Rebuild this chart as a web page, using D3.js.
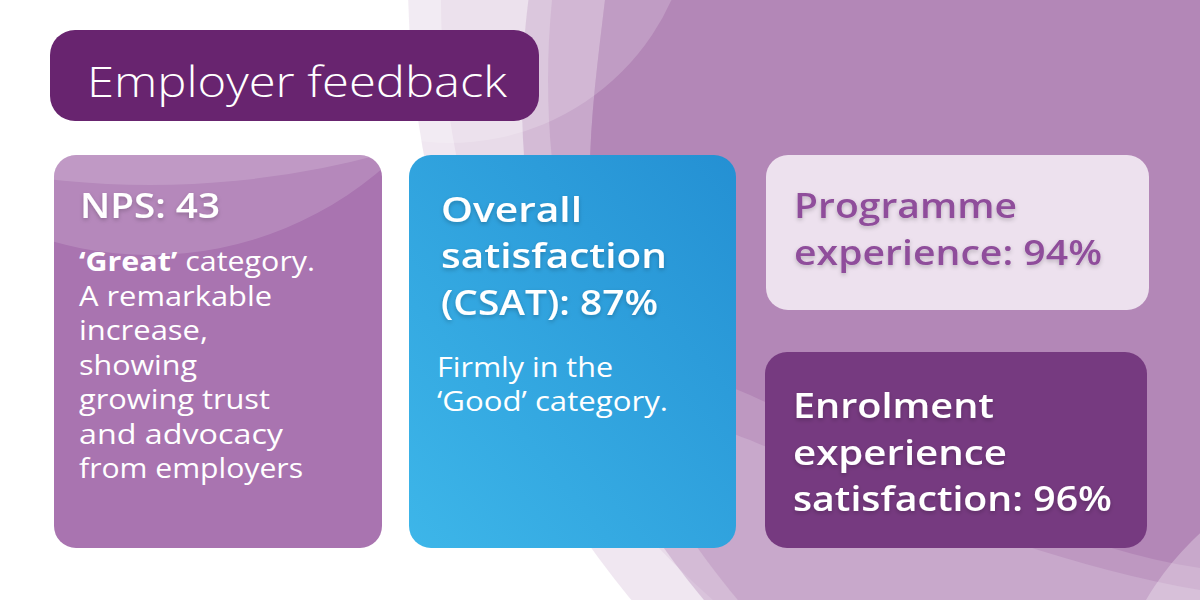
<!DOCTYPE html>
<html>
<head>
<meta charset="utf-8">
<script src="https://cdn.jsdelivr.net/npm/d3@7"></script>
<style>
  html, body { margin: 0; padding: 0; background: #fff; }
  svg { display: block; }
</style>
</head>
<body>
<svg id="chart"></svg>
<script>
const width = 1200
const height = 600

// content
const chartTitle = "Employer feedback"
const headlineWords = [
  ["NPS"],
  ["Overall", "satisfaction", "(CSAT)"],
  ["Programme", "experience"],
  ["Enrolment", "experience", "satisfaction"]
]
const cardValues = [43, 87, 94, 96]
const cardUnits = ["", "%", "%", "%"]
const noteLines = [
  ["‘Great’ category.", "A remarkable", "increase,", "showing", "growing trust", "and advocacy", "from employers"],
  ["Firmly in the", "‘Good’ category."],
  [],
  []
]
const noteEmphasis = ["‘Great’", null, null, null]

const cardLayout = [
  { x: 54, y: 155, w: 328, h: 393, fill: "#a974b0", ink: "#fff", hx: 80, hy: [218], hw: [140],
    nx: 79, ny: 271, nStep: 34.5, nw: [236, 193, 129, 118, 191, 204, 224], gloss: true },
  { x: 409, y: 155, w: 327, h: 393, fill: "url(#blueGrad)", ink: "#fff", hx: 441, hy: [222, 268, 315], hw: [141, 226, 217],
    nx: 437, ny: 377, nStep: 34, nw: [176, 231] },
  { x: 766, y: 155, w: 383, h: 155, fill: "#ede1ee", ink: "#8f4e9b", hx: 794, hy: [218, 265], hw: [223, 308] },
  { x: 765, y: 352, w: 382, h: 196, fill: "#763a80", ink: "#fff", hx: 793, hy: [418, 465, 511], hw: [201, 214, 319] }
]

// decorative translucent circles behind the cards
const purple = "#b387b7"
const bgCircles = [
  { cx: 1380, cy: -20, r: 972, o: 0.2 },
  { cx: 1239, cy: 0, r: 798, o: 0.12 },
  { cx: 1300, cy: 100, r: 778, o: 0.375 },
  { cx: 1355, cy: 80, r: 807, o: 0.36 }
]

const font = "'Open Sans', 'DejaVu Sans', sans-serif"

const svg = d3.select("#chart")
  .attr("width", width)
  .attr("height", height)

const defs = svg.append("defs")

const grad = defs.append("linearGradient")
  .attr("id", "blueGrad")
  .attr("x1", 0).attr("y1", 1).attr("x2", 1).attr("y2", 0)
grad.append("stop").attr("offset", "0%").attr("stop-color", "#3db6e9")
grad.append("stop").attr("offset", "100%").attr("stop-color", "#2490d3")

const shadow = defs.append("filter")
  .attr("id", "txtShadow")
  .attr("x", "-10%").attr("y", "-30%").attr("width", "120%").attr("height", "160%")
shadow.append("feDropShadow")
  .attr("dx", 0).attr("dy", 2).attr("stdDeviation", 2)
  .attr("flood-color", "#000").attr("flood-opacity", 0.22)

// background
svg.append("rect").attr("width", width).attr("height", height).attr("fill", "#fff")

const bg = svg.append("g")

bg.selectAll("circle")
  .data(bgCircles)
  .join("circle")
  .attr("cx", d => d.cx)
  .attr("cy", d => d.cy)
  .attr("r", d => d.r)
  .attr("fill", purple)
  .attr("fill-opacity", d => d.o)

// softer band just below the main shape
bg.append("path")
  .attr("d", "M605,0 C598,60 588,130 590,200 C592,340 640,400 750,440 C880,495 1050,565 1200,590 L1200,0 Z")
  .attr("fill", purple)
  .attr("fill-opacity", 0.5)

// main solid shape
bg.append("path")
  .attr("d", "M605,0 C598,60 588,130 590,200 C592,300 640,350 750,395 C880,455 1050,545 1200,568 L1200,0 Z")
  .attr("fill", purple)

// white sheen circles
bg.append("circle")
  .attr("cx", 450).attr("cy", -100).attr("r", 243)
  .attr("fill", "#fff").attr("fill-opacity", 0.18)
bg.append("circle")
  .attr("cx", 1400).attr("cy", 750).attr("r", 295)
  .attr("fill", "#fff").attr("fill-opacity", 0.28)

// title pill
const titleG = svg.append("g")
titleG.append("rect")
  .attr("x", 50).attr("y", 30)
  .attr("width", 489).attr("height", 91)
  .attr("rx", 25)
  .attr("fill", "#68246f")
titleG.append("text")
  .attr("x", 87).attr("y", 97)
  .attr("font-family", font)
  .attr("font-weight", 300)
  .attr("font-size", 42)
  .attr("fill", "#fff")
  .attr("textLength", 420)
  .attr("lengthAdjust", "spacingAndGlyphs")
  .text(chartTitle)

// cards
const cards = cardLayout.map((l, i) => {
  const words = headlineWords[i]
  const lines = words.map((w, j) => j === words.length - 1 ? `${w}: ${cardValues[i]}${cardUnits[i]}` : w)
  return { ...l, i, lines, notes: noteLines[i], emph: noteEmphasis[i] }
})

const card = svg.append("g")
  .selectAll("g")
  .data(cards)
  .join("g")

card.append("clipPath")
  .attr("id", d => "clip" + d.i)
  .append("rect")
  .attr("x", d => d.x).attr("y", d => d.y)
  .attr("width", d => d.w).attr("height", d => d.h)
  .attr("rx", 22)

card.append("rect")
  .attr("x", d => d.x).attr("y", d => d.y)
  .attr("width", d => d.w).attr("height", d => d.h)
  .attr("rx", 22)
  .attr("fill", d => d.fill)

// glossy arcs on the NPS card
const gloss = card.filter(d => d.gloss)
  .append("g")
  .attr("clip-path", d => `url(#clip${d.i})`)
gloss.append("circle")
  .attr("cx", 150).attr("cy", -100).attr("r", 355)
  .attr("fill", "#fff").attr("fill-opacity", 0.15)
gloss.append("circle")
  .attr("cx", 150).attr("cy", -700).attr("r", 885)
  .attr("fill", "#fff").attr("fill-opacity", 0.15)

// headlines
card.each(function (d) {
  const g = d3.select(this)
  g.selectAll("text.head")
    .data(d.lines)
    .join("text")
    .attr("class", "head")
    .attr("x", d.hx)
    .attr("y", (t, j) => d.hy[j])
    .attr("font-family", font)
    .attr("font-weight", 600)
    .attr("font-size", 35)
    .attr("fill", d.ink)
    .attr("filter", "url(#txtShadow)")
    .attr("textLength", (t, j) => d.hw[j])
    .attr("lengthAdjust", "spacingAndGlyphs")
    .text(t => t)

  const notes = g.selectAll("text.note")
    .data(d.notes)
    .join("text")
    .attr("class", "note")
    .attr("x", d.nx)
    .attr("y", (t, j) => d.ny + j * d.nStep)
    .attr("font-family", font)
    .attr("font-weight", 400)
    .attr("font-size", 27)
    .attr("fill", d.ink)
    .attr("textLength", (t, j) => d.nw[j])
    .attr("lengthAdjust", "spacingAndGlyphs")

  notes.each(function (t) {
    const el = d3.select(this)
    if (d.emph && t.startsWith(d.emph)) {
      el.append("tspan").attr("font-weight", 700).text(d.emph)
      el.append("tspan").text(t.slice(d.emph.length))
    } else {
      el.text(t)
    }
  })
})
</script>
</body>
</html>
